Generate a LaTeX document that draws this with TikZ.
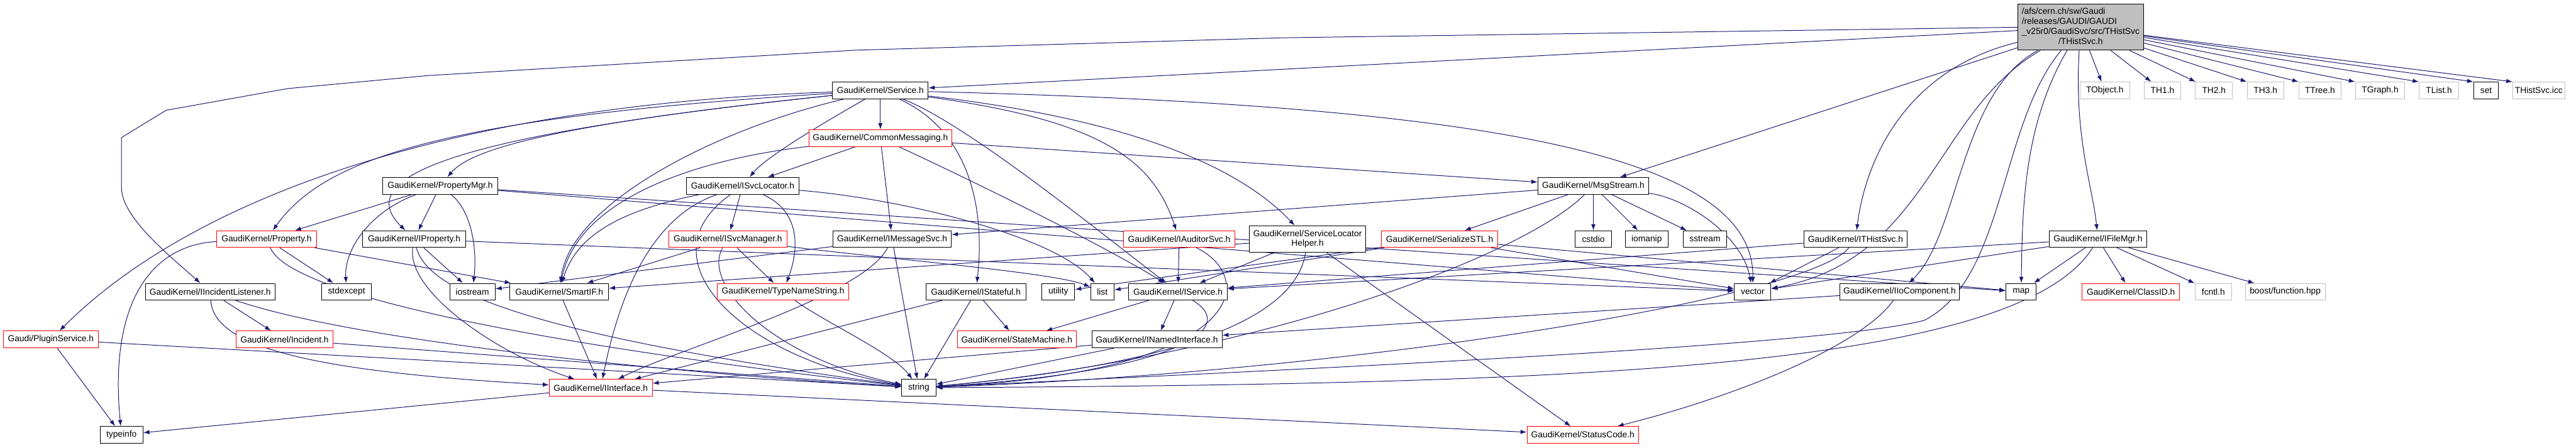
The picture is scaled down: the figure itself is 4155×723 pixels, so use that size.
\documentclass[tikz,border=0pt]{standalone}
\usepackage{fontspec}
\setmainfont{Liberation Sans}
\usetikzlibrary{arrows.meta,backgrounds}
\definecolor{mblue}{HTML}{191970}
\definecolor{gborder}{HTML}{BFBFBF}
\definecolor{rborder}{HTML}{FF0000}
\begin{document}
\begin{tikzpicture}[x=0.5pt,y=-0.5pt,
  basebox/.style={draw=black, fill=white, line width=0.5pt, rectangle, inner sep=0pt, minimum height=13.5pt, font=\fontsize{7}{8}\selectfont, text=black},
  nbox/.style={basebox},
  rbox/.style={basebox, draw=rborder},
  gbox/.style={basebox, draw=gborder},
  dep/.style={draw=mblue, line width=0.5pt, -{Latex[length=5pt,width=3.5pt]}}
]
\useasboundingbox (0,0) rectangle (4155,723);

% ---------- nodes ----------
\node[nbox, fill=gborder, minimum width=101.5pt, minimum height=37pt] (R) at (3356,44)
 {\begin{tabular}{@{}l@{}}/afs/cern.ch/sw/Gaudi\\/releases/GAUDI/GAUDI\\\_v25r0/GaudiSvc/src/THistSvc\\\multicolumn{1}{@{}c@{}}{/THistSvc.h}\end{tabular}};

\node[nbox, minimum width=77pt] (svc) at (1420,146) {GaudiKernel/Service.h};
\node[gbox, minimum width=40pt] (tobj) at (3395,146) {TObject.h};
\node[gbox, minimum width=29pt] (th1) at (3488,146) {TH1.h};
\node[gbox, minimum width=30pt] (th2) at (3571,146) {TH2.h};
\node[gbox, minimum width=29.5pt] (th3) at (3654,146) {TH3.h};
\node[gbox, minimum width=34pt] (ttree) at (3742,146) {TTree.h};
\node[gbox, minimum width=40pt] (tgraph) at (3839,146) {TGraph.h};
\node[gbox, minimum width=32pt] (tlist) at (3934,146) {TList.h};
\node[nbox, minimum width=20pt] (set) at (4010,146) {set};
\node[gbox, minimum width=42pt] (icc) at (4095,146) {THistSvc.icc};

\node[rbox, minimum width=115pt] (cm) at (1420,223) {GaudiKernel/CommonMessaging.h};

\node[nbox, minimum width=92.5pt] (pmgr) at (710,300) {GaudiKernel/PropertyMgr.h};
\node[nbox, minimum width=91pt] (islo) at (1198,300) {GaudiKernel/ISvcLocator.h};
\node[nbox, minimum width=89.5pt] (msg) at (2570,300) {GaudiKernel/MsgStream.h};

\node[rbox, minimum width=80.5pt] (prop) at (430,386) {GaudiKernel/Property.h};
\node[nbox, minimum width=83pt] (iprop) at (668,386) {GaudiKernel/IProperty.h};
\node[rbox, minimum width=95pt] (isvm) at (1174,386) {GaudiKernel/ISvcManager.h};
\node[nbox, minimum width=95.5pt] (imsg) at (1439,386) {GaudiKernel/IMessageSvc.h};
\node[rbox, minimum width=90pt] (iaud) at (1902,386) {GaudiKernel/IAuditorSvc.h};
\node[nbox, minimum width=94pt, minimum height=21.5pt, align=center] (slh) at (2109,386) {GaudiKernel/ServiceLocator\\Helper.h};
\node[rbox, minimum width=94pt] (ser) at (2322,386) {GaudiKernel/SerializeSTL.h};
\node[nbox, minimum width=29pt] (cstdio) at (2570,386) {cstdio};
\node[nbox, minimum width=34.5pt] (iomanip) at (2656,386) {iomanip};
\node[nbox, minimum width=35pt] (sstream) at (2750,386) {sstream};
\node[nbox, minimum width=83.5pt] (ithist) at (2993,386) {GaudiKernel/ITHistSvc.h};
\node[nbox, minimum width=79pt] (ifm) at (3384,386) {GaudiKernel/IFileMgr.h};

\node[nbox, minimum width=104.5pt] (iil) at (339,471) {GaudiKernel/IIncidentListener.h};
\node[nbox, minimum width=40pt] (stdexc) at (559,471) {stdexcept};
\node[nbox, minimum width=36.5pt] (iostr) at (762,471) {iostream};
\node[nbox, minimum width=79.5pt] (sif) at (902,471) {GaudiKernel/SmartIF.h};
\node[rbox, minimum width=106pt] (tns) at (1263,471) {GaudiKernel/TypeNameString.h};
\node[nbox, minimum width=80.5pt] (istate) at (1574,471) {GaudiKernel/IStateful.h};
\node[nbox, minimum width=26.5pt] (util) at (1707,471) {utility};
\node[nbox, minimum width=19pt] (list) at (1778,471) {list};
\node[nbox, minimum width=79.5pt] (iserv) at (1900,471) {GaudiKernel/IService.h};
\node[nbox, minimum width=29.5pt] (vector) at (2827,471) {vector};
\node[nbox, minimum width=96.5pt] (iio) at (3064,471) {GaudiKernel/IIoComponent.h};
\node[nbox, minimum width=24.5pt] (map) at (3260,471) {map};
\node[rbox, minimum width=78.5pt] (clid) at (3437,471) {GaudiKernel/ClassID.h};
\node[gbox, minimum width=29.5pt] (fcntl) at (3570,471) {fcntl.h};
\node[gbox, minimum width=64.5pt] (boost) at (3686,471) {boost/function.hpp};

\node[rbox, minimum width=76.5pt] (plugin) at (82,548) {Gaudi/PluginService.h};
\node[rbox, minimum width=78.5pt] (incid) at (459,548) {GaudiKernel/Incident.h};
\node[rbox, minimum width=96pt] (sm) at (1640,548) {GaudiKernel/StateMachine.h};
\node[nbox, minimum width=105pt] (inamed) at (1866,548) {GaudiKernel/INamedInterface.h};

\node[rbox, minimum width=83pt] (iint) at (969,626) {GaudiKernel/IInterface.h};
\node[nbox, minimum width=27.5pt] (string) at (1482,626) {string};

\node[nbox, minimum width=34.5pt] (typeinfo) at (196,702) {typeinfo};
\node[rbox, minimum width=90pt] (sc) at (2553,702) {GaudiKernel/StatusCode.h};

\begin{pgfonlayer}{background}
\fill[white] (0,0) rectangle (4155,723);
% ---------- edges from root ----------
\draw[dep] (R.west) -- (2070,61) -- (1380,81) -- (690,122) -- (464,143) -- (268,178) -- (196,222) -- (196,303) .. controls (196,350) and (270,410) .. (iil);
\draw[dep] (R) -- (svc);
\draw[dep] (R) -- (msg);
\draw[dep] (R) .. controls (3080,110) and (3010,250) .. (ithist);
\draw[dep] (R) .. controls (3120,180) and (3110,420) .. (vector);
\draw[dep] (R) .. controls (3160,150) and (3160,380) .. (iio);
\draw[dep] (R) .. controls (3225,200) and (3235,450) .. (3104,517) .. controls (2950,560) and (2000,600) .. (string);
\draw[dep] (R) .. controls (3265,200) and (3262,330) .. (map);
\draw[dep] (R) .. controls (3345,220) and (3375,300) .. (ifm);
\draw[dep] (R) -- (tobj);
\draw[dep] (R) -- (th1);
\draw[dep] (R) -- (th2);
\draw[dep] (R) -- (th3.north west);
\draw[dep] (R) -- (ttree.north west);
\draw[dep] (R) -- (tgraph.north west);
\draw[dep] (R) -- (tlist.north west);
\draw[dep] (R) -- (set.north west);
\draw[dep] (R) -- (icc.north west);

% ---------- Service.h ----------
\draw[dep] (svc) -- (cm);
\draw[dep] (svc) .. controls (900,200) and (760,240) .. (pmgr);
\draw[dep] (svc) .. controls (1290,220) and (1230,260) .. (islo);
\draw[dep] (svc) .. controls (1150,210) and (920,330) .. (sif);
\draw[dep] (svc) .. controls (700,190) and (520,260) .. (prop);
\draw[dep] (svc) .. controls (760,215) and (560,280) .. (iprop);
\draw[dep] (svc) .. controls (700,170) and (300,330) .. (plugin);
\draw[dep] (svc) .. controls (1560,210) and (1590,330) .. (istate);
\draw[dep] (svc) .. controls (1560,200) and (1780,380) .. (iserv);
\draw[dep] (svc) .. controls (1780,195) and (1860,260) .. (iaud);
\draw[dep] (svc) .. controls (1800,190) and (1990,260) .. (slh);
\draw[dep] (svc) .. controls (2400,170) and (2830,250) .. (vector);

% ---------- CommonMessaging.h ----------
\draw[dep] (cm) -- (islo);
\draw[dep] (cm) .. controls (1100,260) and (930,330) .. (sif);
\draw[dep] (cm) -- (imsg);
\draw[dep] (cm) .. controls (1650,330) and (1820,420) .. (iserv);
\draw[dep] (cm) -- (msg);

% ---------- PropertyMgr.h ----------
\draw[dep] (pmgr) -- (prop);
\draw[dep] (pmgr) -- (iprop);
\draw[dep] (pmgr) .. controls (600,340) and (555,400) .. (stdexc);
\draw[dep] (pmgr) .. controls (760,340) and (770,400) .. (iostr);
\draw[dep] (pmgr) -- (vector);
\draw[dep] (pmgr) -- (map);

% ---------- ISvcLocator.h ----------
\draw[dep] (islo) -- (isvm);
\draw[dep] (islo) .. controls (1290,340) and (1290,400) .. (tns);
\draw[dep] (islo) .. controls (1000,340) and (930,380) .. (sif);
\draw[dep] (islo) .. controls (1080,340) and (1010,420) .. (iint);
\draw[dep] (islo) .. controls (1030,420) and (1200,580) .. (string);
\draw[dep] (islo) .. controls (1450,320) and (1700,380) .. (list);

% ---------- MsgStream.h ----------
\draw[dep] (msg) -- (imsg);
\draw[dep] (msg) -- (ser);
\draw[dep] (msg) -- (cstdio);
\draw[dep] (msg) -- (iomanip);
\draw[dep] (msg) -- (sstream);
\draw[dep] (msg) .. controls (2720,320) and (2810,380) .. (vector);
\draw[dep] (msg) .. controls (2450,420) and (2000,580) .. (string);

% ---------- Property.h / IProperty.h ----------
\draw[dep] (prop) .. controls (250,395) and (175,480) .. (typeinfo);
\draw[dep] (prop) -- (stdexc);
\draw[dep] (prop) -- (sif);
\draw[dep] (prop) .. controls (470,480) and (900,560) .. (string);
\draw[dep] (iprop) .. controls (655,470) and (800,570) .. (iint);
\draw[dep] (iprop) .. controls (690,470) and (850,540) .. (string);
\draw[dep] (iprop) -- (iostr);
\draw[dep] (iprop) -- (vector);

% ---------- ISvcManager.h / IMessageSvc.h ----------
\draw[dep] (isvm) -- (sif);
\draw[dep] (isvm) -- (tns);
\draw[dep] (isvm) .. controls (1130,460) and (1250,580) .. (string);
\draw[dep] (isvm) .. controls (1450,420) and (1700,440) .. (list);
\draw[dep] (imsg) -- (string);
\draw[dep] (imsg) .. controls (1390,480) and (1100,560) .. (iint);
\draw[dep] (imsg) -- (iostr);

% ---------- IAuditorSvc.h / ServiceLocatorHelper.h / SerializeSTL.h ----------
\draw[dep] (iaud) -- (iserv);
\draw[dep] (iaud) .. controls (2030,450) and (2010,600) .. (string);
\draw[dep] (slh) -- (iserv);
\draw[dep] (slh) .. controls (2095,480) and (2000,580) .. (string);
\draw[dep] (slh) -- (sc);
\draw[dep] (slh) -- (sif);
\draw[dep] (ser) -- (util);
\draw[dep] (ser) -- (list);
\draw[dep] (ser) -- (vector);
\draw[dep] (ser) -- (map);

% ---------- ITHistSvc.h / IFileMgr.h / IIoComponent.h ----------
\draw[dep] (ithist) -- (iserv);
\draw[dep] (ithist) -- (vector);
\draw[dep] (ithist) .. controls (2920,480) and (2200,600) .. (string);
\draw[dep] (ifm) -- (iserv);
\draw[dep] (ifm) -- (vector);
\draw[dep] (ifm) -- (map);
\draw[dep] (ifm) -- (clid);
\draw[dep] (ifm) -- (fcntl);
\draw[dep] (ifm) -- (boost);
\draw[dep] (ifm) .. controls (3250,600) and (2500,620) .. (string);
\draw[dep] (iio) -- (inamed);
\draw[dep] (iio) .. controls (3000,560) and (2800,640) .. (sc);

% ---------- lower level ----------
\draw[dep] (iil) -- (incid);
\draw[dep] (iil) .. controls (345,560) and (500,600) .. (iint);
\draw[dep] (iil) .. controls (600,560) and (1200,610) .. (string);
\draw[dep] (sif) -- (iint);
\draw[dep] (tns) .. controls (1330,520) and (1440,570) .. (string);
\draw[dep] (istate) -- (sm);
\draw[dep] (istate) -- (iint);
\draw[dep] (istate) -- (string);
\draw[dep] (iserv) -- (sm);
\draw[dep] (iserv) -- (inamed);
\draw[dep] (iserv) .. controls (2000,530) and (1900,600) .. (string);
\draw[dep] (inamed) -- (iint);
\draw[dep] (inamed) -- (string);
\draw[dep] (plugin) -- (typeinfo);
\draw[dep] (plugin) -- (string);
\draw[dep] (incid) -- (string);
\draw[dep] (iint) -- (sc);
\draw[dep] (iint) -- (typeinfo);
\end{pgfonlayer}
\end{tikzpicture}
\end{document}
